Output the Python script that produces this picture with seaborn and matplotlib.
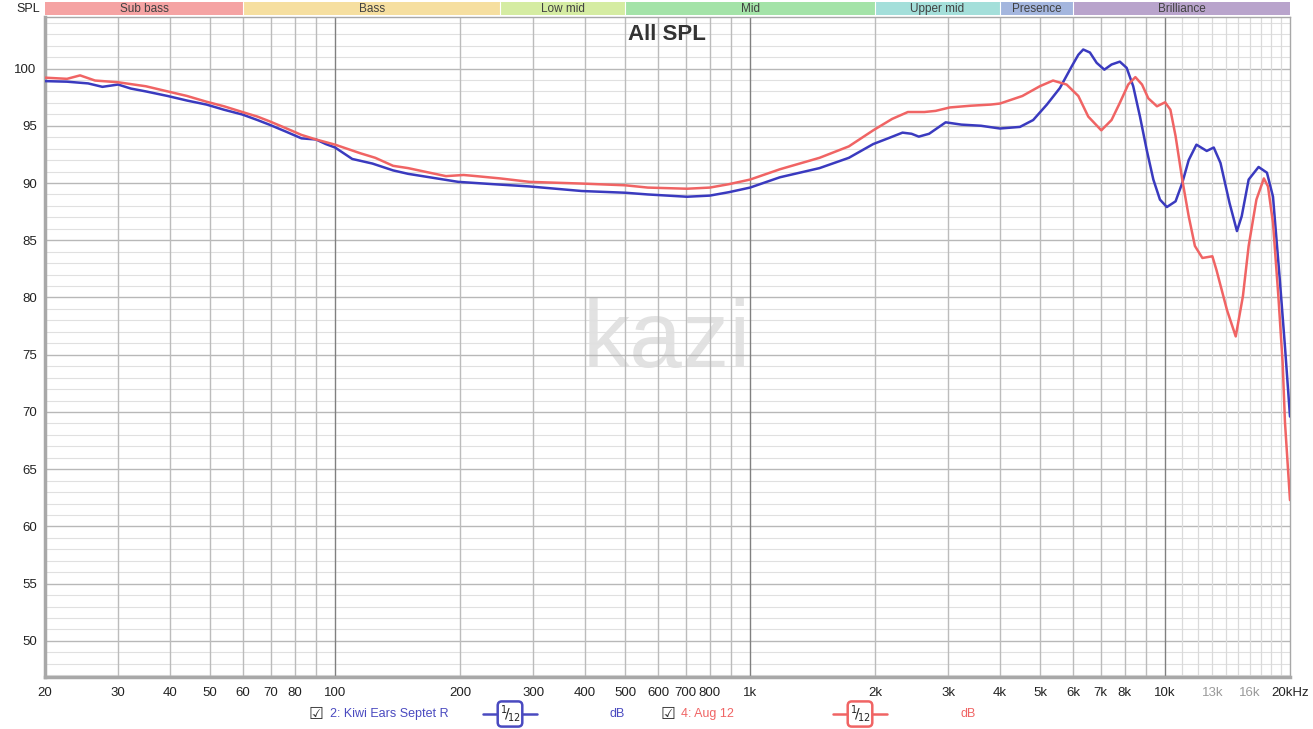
import matplotlib
matplotlib.use("Agg")
import matplotlib.pyplot as plt
from matplotlib.lines import Line2D
import numpy as np
import pandas as pd
import seaborn as sns

# ---------------- data ----------------
blue_freq = [20, 22.6, 25.4, 27.5, 30, 32.2, 35, 39.5, 44, 49, 54, 59.8, 65, 69.4, 76, 83, 90, 95,
             100, 110, 123, 138, 150, 169, 198, 240, 294, 393, 500, 567, 705, 800, 890, 1000,
             1180, 1470, 1730, 1980, 2150, 2330, 2450, 2550, 2700, 2960, 3230, 3600, 4000,
             4470, 4810, 5190, 5580, 5960, 6180, 6350, 6590, 6840, 7140, 7430, 7780, 8080,
             8380, 8700, 9030, 9370, 9720, 10100, 10600, 11000, 11400, 11900, 12600, 13100,
             13600, 14300, 14900, 15300, 15900, 16800, 17600, 18200, 18900, 19450, 20000]
blue_db = [98.9, 98.85, 98.7, 98.4, 98.6, 98.25, 98.0, 97.6, 97.2, 96.85, 96.4, 95.98, 95.5, 95.1,
           94.5, 93.9, 93.8, 93.4, 93.1, 92.1, 91.7, 91.1, 90.8, 90.5, 90.1, 89.9, 89.7, 89.3, 89.15,
           89.0, 88.8, 88.9, 89.2, 89.6, 90.5, 91.3, 92.2, 93.4, 93.9, 94.4, 94.3, 94.05, 94.3, 95.3,
           95.1, 95.0, 94.76,
           94.9, 95.5, 96.85, 98.3, 100.2, 101.2, 101.66, 101.4, 100.5, 99.9, 100.35, 100.6, 100.06,
           98.45, 95.8, 92.9, 90.3, 88.55, 87.9, 88.4, 90.0, 92.0, 93.35, 92.8, 93.1,
           91.75, 88.25, 85.8, 87.1, 90.3, 91.4, 90.9, 88.8, 81.55, 75.7, 69.6]

red_freq = [20, 22.6, 24.3, 26.4, 30, 35, 39.5, 44, 49, 54, 59.8, 65, 69.4, 76, 83, 90, 100, 115,
            125, 138, 150, 169, 185, 204, 219, 250, 294, 393, 500, 567, 705, 800, 890, 1000, 1180,
            1470, 1730, 1980, 2200, 2400, 2630, 2800, 3030, 3400, 3800, 4000,
            4530, 4990, 5370, 5790, 6180, 6530, 7020, 7430, 7780, 8150, 8480, 8800, 9110, 9560,
            10000, 10300, 10600, 11000, 11400, 11800, 12300, 13000, 13300, 14100, 14800, 15400,
            15900, 16600, 17300, 17700, 18200, 18750, 19200, 19450, 20000]
red_db = [99.2, 99.1, 99.4, 98.95, 98.8, 98.45, 98.0, 97.6, 97.1, 96.7, 96.2, 95.8, 95.4, 94.8,
          94.2, 93.8, 93.35, 92.6, 92.2, 91.5, 91.3, 90.9, 90.6, 90.7, 90.6, 90.4, 90.1, 89.95, 89.8,
          89.6, 89.5, 89.6, 89.9, 90.3, 91.2, 92.2, 93.2, 94.6, 95.6, 96.2, 96.2, 96.3, 96.6, 96.75,
          96.85, 96.94,
          97.6, 98.45, 98.95, 98.6, 97.6, 95.8, 94.6, 95.5, 97.0, 98.6, 99.25, 98.6, 97.4, 96.7,
          97.05, 96.4, 94.1, 90.3, 87.1, 84.5, 83.45, 83.6, 82.4, 78.9, 76.6, 80.1,
          84.5, 88.55, 90.4, 89.7, 86.5, 80.1, 74.3, 69.1, 62.3]

series_names = ["2: Kiwi Ears Septet R", "4: Aug 12"]

band_names = ["Sub bass", "Bass", "Low mid", "Mid", "Upper mid", "Presence", "Brilliance"]
band_edges = [20, 60, 250, 500, 2000, 4000, 6000, 20000]
band_colors = ["#f5a3a3", "#f6dfa0", "#d5eca2", "#a4e3a8", "#a4dfda", "#a4b6de", "#b9a4cc"]

xtick_vals = [20, 30, 40, 50, 60, 70, 80, 100, 200, 300, 400, 500, 600, 700, 800, 1000,
              2000, 3000, 4000, 5000, 6000, 7000, 8000, 10000, 13000, 16000, 20000]
xtick_labels = ["20", "30", "40", "50", "60", "70", "80", "100", "200", "300", "400", "500",
                "600", "700", "800", "1k", "2k", "3k", "4k", "5k", "6k", "7k", "8k", "10k",
                "13k", "16k", "20kHz"]
ytick_vals = [50, 55, 60, 65, 70, 75, 80, 85, 90, 95, 100]

# ---------------- style ----------------
sns.set_style("white")
plt.rcParams["font.family"] = ["Liberation Sans", "DejaVu Sans"]

W, H = 1313, 729
fig = plt.figure(figsize=(W / 100, H / 100), dpi=100, facecolor="white")

def fx(px):
    return px / W

def fy(py):
    return 1 - py / H

L, R, T, B = 45, 1290, 17, 677
ax = fig.add_axes([fx(L), fy(B), fx(R - L), (B - T) / H])
ax.set_xscale("log")

# grid
for v in range(47, 105):
    if v % 5 == 0:
        ax.axhline(v, color="#b8b8b8", lw=1.0, zorder=1)
    else:
        ax.axhline(v, color="#e0e0e0", lw=0.8, zorder=1)
grid_f = [30, 40, 50, 60, 70, 80, 90, 200, 300, 400, 500, 600, 700, 800, 900,
          2000, 3000, 4000, 5000, 6000, 7000, 8000, 9000]
for f in grid_f:
    ax.axvline(f, color="#bcbcbc", lw=1.0, zorder=1)
for f in range(11000, 20000, 1000):
    ax.axvline(f, color="#dadada", lw=0.9, zorder=1)
for f in [100, 1000, 10000]:
    ax.axvline(f, color="#808080", lw=1.0, zorder=1)

# watermark
ax.text(0.4996, 0.507, "kazi", transform=ax.transAxes, ha="center", va="center",
        fontsize=68, color="#e2e2e2", zorder=0.5, family="Liberation Sans")

# curves
df = pd.concat([
    pd.DataFrame({"freq": blue_freq, "db": blue_db, "series": series_names[0]}),
    pd.DataFrame({"freq": red_freq, "db": red_db, "series": series_names[1]}),
])
blue_c = "#3a3abf"
red_c = "#f06464"
sns.lineplot(data=df, x="freq", y="db", hue="series", palette=[blue_c, red_c],
             ax=ax, lw=1.8, legend=False, zorder=3, sort=False)
for ln in ax.get_lines():
    ln.set_solid_joinstyle("round")
    ln.set_solid_capstyle("round")
ax.set_xlim(20, 20000)
ax.set_ylim(46.85, 104.5)
ax.set_xlabel("")
ax.set_ylabel("")

ax.set_xticks(xtick_vals)
ax.set_xticklabels(xtick_labels)
ax.xaxis.set_minor_locator(matplotlib.ticker.NullLocator())
ax.set_yticks(ytick_vals)
ax.set_yticklabels([str(v) for v in ytick_vals])
ax.tick_params(axis="both", length=0, labelsize=9.5, colors="#222222")
ax.tick_params(axis="x", pad=7)
ax.tick_params(axis="y", pad=6)
for lbl in ax.get_xticklabels():
    if lbl.get_text() in ("13k", "16k"):
        lbl.set_color("#9a9a9a")

for s in ["top", "right"]:
    ax.spines[s].set_color("#a8a8a8")
    ax.spines[s].set_linewidth(1.0)
for s in ["left", "bottom"]:
    ax.spines[s].set_color("#a8a8a8")
    ax.spines[s].set_linewidth(2.5)

# title
ax.text(0.4996, 0.973, "All SPL", transform=ax.transAxes, ha="center", va="center",
        fontsize=16, fontweight="bold", color="#333333", zorder=4)

# band bar
bax = fig.add_axes([fx(L), fy(15), fx(R - L), 13 / H])
bax.set_xscale("log")
for i, name in enumerate(band_names):
    lo, hi = band_edges[i], band_edges[i + 1]
    bax.axvspan(lo, hi, color=band_colors[i], lw=0)
    if i > 0:
        bax.axvline(lo, color="white", lw=0.8)
    bax.text(np.sqrt(lo * hi), 0.45, name, ha="center", va="center", fontsize=8.5,
             color="#404040")
bax.set_xlim(20, 20000)
bax.set_ylim(0, 1)
bax.axis("off")
fig.text(fx(40), fy(8.5), "SPL", ha="right", va="center", fontsize=9, color="#222222")

# legend row
ly = fy(714)
def legend_item(x_chk, x_name, x_l0, x_l1, x_db, name, color):
    fig.text(fx(x_chk), ly, "\u2611", ha="center", va="center", fontsize=12, color="#333333",
             family="DejaVu Sans")
    fig.text(fx(x_name), ly, name, ha="left", va="center", fontsize=9, color=color)
    fig.add_artist(Line2D([fx(x_l0), fx(x_l1)], [ly, ly], color=color, lw=1.8,
                          transform=fig.transFigure))
    fig.text(fx((x_l0 + x_l1) / 2), ly, r"$^{1}\!/\!_{12}$", ha="center", va="center",
             fontsize=10, color="#222222",
             bbox=dict(boxstyle="round,pad=0.15,rounding_size=0.3", fc="white", ec=color, lw=1.8))
    fig.text(fx(x_db), ly, "dB", ha="left", va="center", fontsize=9, color=color)

legend_item(316, 330, 483, 537, 609, series_names[0], "#4a4ac0")
legend_item(668, 681, 833, 887, 960, series_names[1], "#f06464")

fig.savefig("out.png", dpi=100, facecolor="white")
